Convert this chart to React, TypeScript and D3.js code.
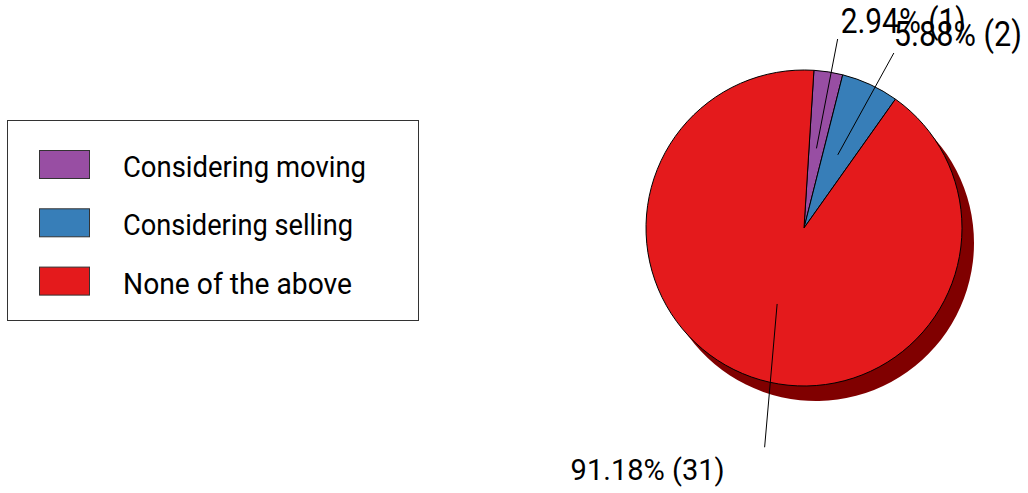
import React from "react";
import * as d3 from "d3";

const categories = ["Considering moving", "Considering selling", "None of the above"];
const counts = [1, 2, 31];
const percentLabels = ["2.94% (1)", "5.88% (2)", "91.18% (31)"];
const colors = ["#984ea3", "#377eb8", "#e41a1c"];

const W = 1028;
const H = 493;
const layout = {
  cx: 804,
  cy: 228,
  r: 158,
  startDeg: 3.6,
  shadowDx: 12,
  shadowDy: 15,
  innerK: 0.51,
  outerShiftDeg: [1.2, 2.4, -9.3],
  outerK: [1.215, 1.245, 1.41],
  labelDx: [3, 0, -40],
  labelDy: [-6, -6.6, 33],
  labelAnchor: ["start", "start", "end"],
  labelSize: [35, 35, 29.5],
  labelLen: [125, 128, 154],
  legend: { x: 7, y: 120, w: 411, h: 200, swX: 39, swY: 150, swW: 50, swH: 28, step: 58.3, textX: 123, textLen: [243, 230, 229], fontSize: 30 },
};

function polar(a: number, R: number): [number, number] {
  return [layout.cx + R * Math.sin(a), layout.cy - R * Math.cos(a)];
}

export default function App() {
  const start = (layout.startDeg * Math.PI) / 180;
  const pie = d3
    .pie<number>()
    .sort(null)
    .value((d) => d)
    .startAngle(start)
    .endAngle(start + 2 * Math.PI);
  const arcs = pie(counts);
  const arcGen = d3.arc<d3.PieArcDatum<number>>().innerRadius(0).outerRadius(layout.r);
  const L = layout.legend;
  const font = "Roboto, 'DejaVu Sans', sans-serif";

  return (
    <svg width={W} height={H} style={{ position: "absolute", left: 0, top: 0, background: "#fff" }}>
      <rect x={0} y={0} width={W} height={H} fill="#fff" />
      {/* legend */}
      <rect x={L.x + 0.5} y={L.y + 0.5} width={L.w} height={L.h} fill="#fff" stroke="#333" strokeWidth={1} />
      {categories.map((c, i) => (
        <g key={c}>
          <rect
            x={L.swX + 0.5}
            y={L.swY + i * L.step + 0.5}
            width={L.swW}
            height={L.swH}
            fill={colors[i]}
            stroke="#333"
            strokeWidth={1}
          />
          <text
            x={L.textX}
            y={L.swY + L.swH / 2 + i * L.step + 13}
            fontFamily={font}
            fontSize={L.fontSize}
            fill="#000"
            textLength={L.textLen[i]}
            lengthAdjust="spacingAndGlyphs"
          >
            {c}
          </text>
        </g>
      ))}
      {/* shadow */}
      <g transform={`translate(${layout.cx + layout.shadowDx},${layout.cy + layout.shadowDy})`}>
        {arcs.map((a, i) => (
          <path key={i} d={arcGen(a) || ""} fill="#800000" />
        ))}
      </g>
      {/* pie */}
      <g transform={`translate(${layout.cx},${layout.cy})`}>
        {arcs.map((a, i) => (
          <path key={i} d={arcGen(a) || ""} fill={colors[i]} stroke="#000" strokeWidth={1} strokeLinejoin="round" />
        ))}
      </g>
      {/* leader lines and labels */}
      {arcs.map((a, i) => {
        const mid = (a.startAngle + a.endAngle) / 2;
        const [x1, y1] = polar(mid, layout.r * layout.innerK);
        const [x2, y2] = polar(mid + (layout.outerShiftDeg[i] * Math.PI) / 180, layout.r * layout.outerK[i]);
        return (
          <g key={"l" + i}>
            <line x1={x1} y1={y1} x2={x2} y2={y2} stroke="#000" strokeWidth={1} />
            <text
              x={x2 + layout.labelDx[i]}
              y={y2 + layout.labelDy[i]}
              textAnchor={layout.labelAnchor[i] as any}
              fontFamily={font}
              fontSize={layout.labelSize[i]}
              fill="#000"
              textLength={layout.labelLen[i]}
              lengthAdjust="spacingAndGlyphs"
            >
              {percentLabels[i]}
            </text>
          </g>
        );
      })}
    </svg>
  );
}
